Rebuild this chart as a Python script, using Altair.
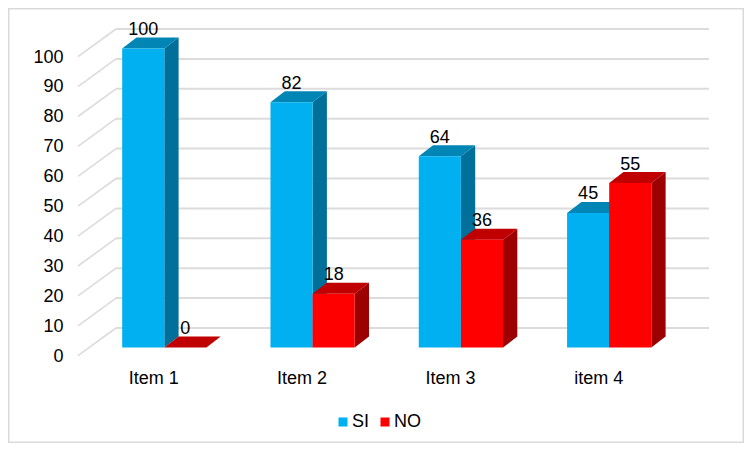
import altair as alt
import pandas as pd

items = ["Item 1", "Item 2", "Item 3", "item 4"]
si = [100, 82, 64, 45]
no = [0, 18, 36, 55]
ticks = [0, 10, 20, 30, 40, 50, 60, 70, 80, 90, 100]

series_names = ["SI", "NO"]
front_colors = ["#00B0F0", "#FF0000"]
top_colors = {"SI": "#0085B5", "NO": "#C00000"}
side_colors = {"SI": "#00709A", "NO": "#9C0000"}
grid_color = "#DCDCDC"
font = "Liberation Sans"

# 3D projection, expressed in data units of the two scales
W = 736
H = 435
BAR = 0.284      # bar width, in category slots
DX = 0.0964      # depth of a bar, horizontally
DY = 3.68        # depth of a bar, vertically
WALL_DY = 6.52   # back wall above the bar floor
FRONT_DY = -2.74 # front edge of the floor grid
X_FRONT = -0.582
X_BACK = -0.326
X_RIGHT = 3.673

x_scale = alt.Scale(domain=[-1.054, 3.909], nice=False, zero=False)
y_scale = alt.Scale(domain=[-31.94, 113.55], nice=False, zero=False)

bars = []
for i, name in enumerate(items):
    bars.append(dict(id=f"{i}SI", item=i, s="SI", v=si[i], l=i - BAR, r=i))
    bars.append(dict(id=f"{i}NO", item=i, s="NO", v=no[i], l=i, r=i + BAR))
bars_df = pd.DataFrame(bars)
bars_df["c"] = (bars_df.l + bars_df.r) / 2
bars_df["lab"] = bars_df.v + 6.2
bars_df["zero"] = 0

side_rows, top_rows = [], []
for b in bars:
    side_rows.append(dict(id=b["id"], s=b["s"], x=b["r"], y=b["v"], y2=0))
    side_rows.append(dict(id=b["id"], s=b["s"], x=b["r"] + DX, y=b["v"] + DY, y2=DY))
    top_rows.append(dict(id=b["id"], s=b["s"], x=b["l"], x2=b["r"], y=b["v"]))
    top_rows.append(dict(id=b["id"], s=b["s"], x=b["l"] + DX, x2=b["r"] + DX, y=b["v"] + DY))
side_df = pd.DataFrame(side_rows)
top_df = pd.DataFrame(top_rows)

wall_df = pd.DataFrame({"v": ticks})
wall_df["y"] = wall_df.v + WALL_DY
wall_df["x"] = X_BACK
wall_df["x2"] = X_RIGHT
slant_rows = []
for t in ticks:
    slant_rows.append(dict(t=t, x=X_FRONT, y=t + FRONT_DY))
    slant_rows.append(dict(t=t, x=X_BACK, y=t + WALL_DY))
slant_df = pd.DataFrame(slant_rows)

label_expr = "[" + ",".join(f"'{n}'" for n in items) + "][datum.value]"
x_axis = alt.Axis(values=list(range(len(items))), labelExpr=label_expr, title=None,
                  orient="bottom", offset=-(H - 361), domain=False, ticks=False, grid=False,
                  labelFont=font, labelFontSize=18, labelColor="#000000", labelOffset=-11,
                  labelPadding=0, labelOverlap=False, labelBound=False, labelFlush=False)
y_axis = alt.Axis(values=ticks, title=None, orient="left", offset=-55, domain=False,
                  ticks=False, grid=False, labelFont=font, labelFontSize=18,
                  labelColor="#000000", labelOffset=8.5, labelPadding=0,
                  labelOverlap=False, labelBound=False, labelFlush=False)

X = lambda f, **k: alt.X(f, type="quantitative", scale=x_scale, axis=x_axis, **k)
Y = lambda f, **k: alt.Y(f, type="quantitative", scale=y_scale, axis=y_axis, **k)

wall = alt.Chart(wall_df).mark_rule(color=grid_color, strokeWidth=2).encode(
    x=X("x"), x2="x2", y=Y("y"))
slant = alt.Chart(slant_df).mark_line(color=grid_color, strokeWidth=1.6).encode(
    x=X("x"), y=Y("y"), detail="t:N")


def side_layer(s):
    return alt.Chart(side_df[side_df.s == s]).mark_area(color=side_colors[s], orient="vertical").encode(
        x=X("x"), y=Y("y", stack=None), y2="y2", detail="id:N")


def top_layer(s):
    return alt.Chart(top_df[top_df.s == s]).mark_area(color=top_colors[s], orient="horizontal").encode(
        x=X("x", stack=None), x2="x2", y=Y("y"), detail="id:N")


legend = alt.Legend(title=None, orient="none", legendX=326, legendY=405, direction="horizontal",
                    symbolType="square", symbolSize=81, symbolStrokeWidth=0, padding=0,
                    labelFont=font, labelFontSize=18, labelColor="#000000",
                    labelOffset=0, columnPadding=6)
fronts = alt.Chart(bars_df).mark_rect(stroke=None).encode(
    x=X("l"), x2="r", y=Y("v"), y2="zero",
    color=alt.Color("s:N", scale=alt.Scale(domain=series_names, range=front_colors), legend=legend))

labels = alt.Chart(bars_df).mark_text(font=font, fontSize=18, color="#000000", baseline="middle").encode(
    x=X("c"), y=Y("lab"), text="v:Q")

chart = alt.layer(
    wall, slant,
    side_layer("SI"), top_layer("SI"),
    side_layer("NO"), top_layer("NO"),
    fronts, labels,
).properties(
    width=W, height=H, padding=0, background="#FFFFFF",
    autosize=alt.AutoSizeParams(type="none", contains="padding"),
).configure_view(stroke="#D9D9D9", strokeWidth=3, fill="#FFFFFF")

chart.save("out.html", embed_options={"renderer": "svg", "actions": False})
